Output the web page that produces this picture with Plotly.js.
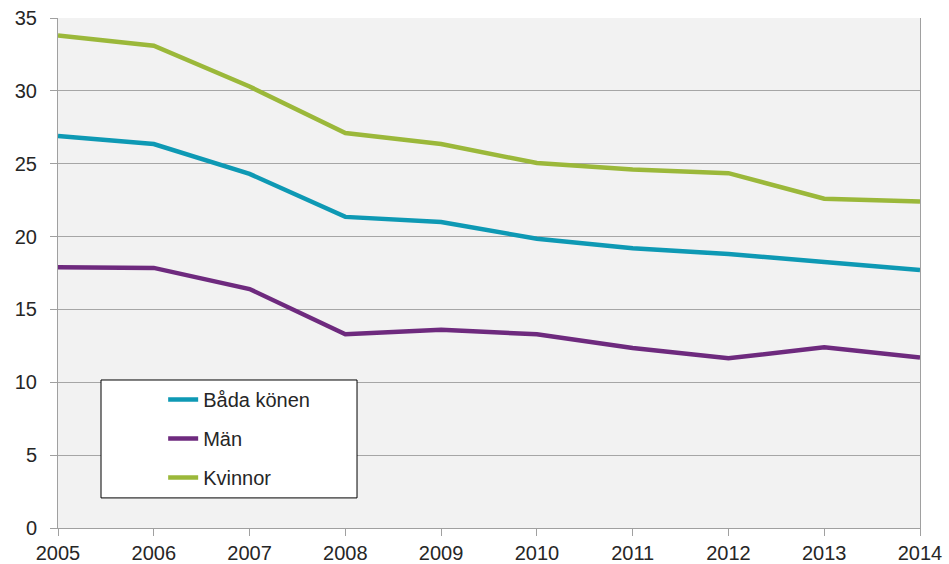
<!DOCTYPE html>
<html><head><meta charset="utf-8">
<script src="https://cdn.plot.ly/plotly-3.0.1.min.js"></script>
<style>body{margin:0;background:#fff}#c{width:949px;height:564px}</style>
</head><body><div id="c"></div>
<script>
const years = [2005, 2006, 2007, 2008, 2009, 2010, 2011, 2012, 2013, 2014];
const badaKonen = [26.9, 26.35, 24.3, 21.35, 21.0, 19.85, 19.2, 18.8, 18.25, 17.7];
const man = [17.9, 17.85, 16.4, 13.3, 13.6, 13.3, 12.35, 11.65, 12.4, 11.7];
const kvinnor = [33.8, 33.1, 30.3, 27.1, 26.35, 25.05, 24.6, 24.35, 22.6, 22.4];
const seriesNames = ['Båda könen', 'Män', 'Kvinnor'];
const yTicks = [0, 5, 10, 15, 20, 25, 30, 35];

const colors = ['#0e99b4', '#6e2a7e', '#9bb83a'];
const data = [badaKonen, man, kvinnor].map((v, i) => ({
  x: years, y: v, type: 'scatter', mode: 'lines', name: seriesNames[i],
  legendgroup: 'g' + i,
  line: {color: colors[i], width: 4.5}
}));

const layout = {
  width: 949, height: 564,
  margin: {l: 58, r: 29, t: 18, b: 36},
  paper_bgcolor: '#ffffff', plot_bgcolor: '#f2f2f2',
  font: {family: 'Liberation Sans, Arial, sans-serif', size: 20, color: '#262626'},
  showlegend: true,
  legend: {
    x: 0.122, y: 0.29, xanchor: 'left', yanchor: 'top',
    bgcolor: 'rgba(0,0,0,0)', borderwidth: 0,
    traceorder: 'grouped', tracegroupgap: 10,
    font: {size: 20, color: '#262626'}
  },
  xaxis: {
    range: [2005, 2014], tickvals: years, ticktext: years.map(String),
    showgrid: false, zeroline: false,
    showline: true, linecolor: '#a0a0a0', linewidth: 1,
    ticks: 'outside', ticklen: 7, tickcolor: '#a0a0a0',
    tickfont: {size: 20}
  },
  yaxis: {
    range: [0, 35], tickvals: yTicks,
    showgrid: true, gridcolor: '#a6a6a6', gridwidth: 1,
    zeroline: false, showline: true, linecolor: '#a0a0a0', linewidth: 1, mirror: true,
    ticks: 'outside', ticklen: 7, tickcolor: '#a0a0a0',
    ticklabelstandoff: 9,
    tickfont: {size: 20}
  },
  shapes: [{
    type: 'rect', xref: 'paper', yref: 'paper', layer: 'above',
    x0: 0.0499, x1: 0.3469, y0: 0.059, y1: 0.2902,
    fillcolor: '#ffffff', line: {color: '#000000', width: 1}
  }]
};
Plotly.newPlot('c', data, layout, {displayModeBar: false, staticPlot: true});
</script></body></html>
